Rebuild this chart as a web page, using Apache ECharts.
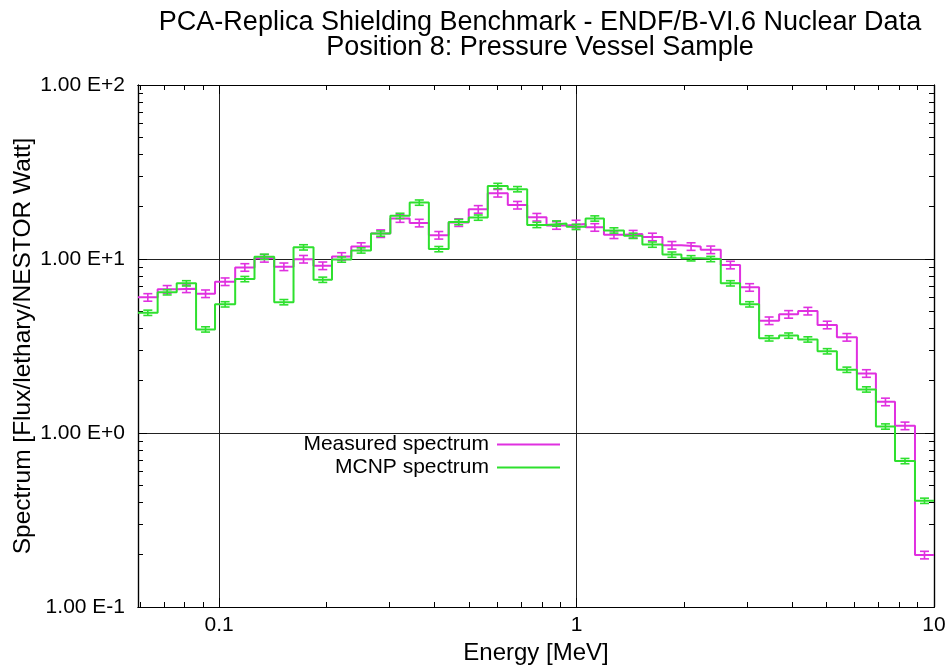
<!DOCTYPE html>
<html><head><meta charset="utf-8">
<script src="https://cdn.jsdelivr.net/npm/echarts@6/dist/echarts.min.js"></script>
<style>html,body{margin:0;padding:0;background:#fff}#c{width:951px;height:666px}</style>
</head><body><div id="c"></div>
<script>
// Energy bin edges [MeV] (41 bins)
const binEdges = [0.0593, 0.0673, 0.0761, 0.0862, 0.0974, 0.1109, 0.1256, 0.1426, 0.1615, 0.1837,
  0.2069, 0.2343, 0.2660, 0.3013, 0.3413, 0.3862, 0.4388, 0.4993, 0.5644, 0.6421,
  0.7276, 0.8241, 0.9375, 1.060, 1.193, 1.357, 1.528, 1.739, 1.965, 2.225,
  2.532, 2.867, 3.241, 3.687, 4.168, 4.723, 5.350, 6.085, 6.879, 7.778, 8.847, 10.0];
// Measured spectrum per bin
const measured = [6.02, 6.70, 6.75, 6.32, 7.41, 8.95, 10.1, 9.03, 9.98, 9.15,
  10.35, 11.8, 14.0, 17.1, 16.1, 13.7, 16.2, 19.3, 23.9, 20.4,
  17.4, 15.6, 15.9, 15.2, 13.8, 13.9, 13.4, 12.0, 11.8, 11.3,
  9.24, 6.87, 4.42, 4.81, 5.02, 4.18, 3.55, 2.20, 1.51, 1.10, 0.199];
// MCNP spectrum per bin
const mcnp = [4.91, 6.44, 7.25, 3.94, 5.49, 7.67, 10.3, 5.65, 11.67, 7.6,
  9.93, 11.2, 14.0, 17.7, 21.1, 11.4, 16.3, 17.3, 26.3, 25.2,
  15.7, 16.0, 15.3, 17.1, 14.6, 13.6, 12.1, 10.6, 10.1, 10.0,
  7.25, 5.49, 3.50, 3.63, 3.45, 2.95, 2.31, 1.78, 1.09, 0.69, 0.408];
const measuredRelErr = 0.05;
const mcnpRelErr = 0.035;

const xMin = 0.0593, xMax = 10.00001;
const yMin = 0.0999999, yMax = 100;
const xMajorTicks = [0.1, 1, 10];
const xMinorTicks = [0.06, 0.07, 0.08, 0.09, 0.2, 0.3, 0.4, 0.5, 0.6, 0.7, 0.8, 0.9, 2, 3, 4, 5, 6, 7, 8, 9];
const yMajorTicks = [0.1, 1, 10, 100];
const yMinorTicks = [0.2, 0.3, 0.4, 0.5, 0.6, 0.7, 0.8, 0.9, 2, 3, 4, 5, 6, 7, 8, 9, 20, 30, 40, 50, 60, 70, 80, 90];

const MAG = '#e030e0', GRN = '#2ee02e';
const FONT = 'Liberation Sans';

function stepData(vals) {
  const out = [];
  vals.forEach((v, i) => { out.push([binEdges[i], v]); out.push([binEdges[i + 1], v]); });
  return out;
}
function errData(vals, rel) {
  return vals.map((v, i) => [Math.sqrt(binEdges[i] * binEdges[i + 1]), v, v * (1 - rel), v * (1 + rel)]);
}
function errSeries(name, vals, rel, color) {
  return {
    type: 'custom', name: name, xAxisIndex: 0, yAxisIndex: 0,
    data: errData(vals, rel), encode: { x: 0, y: 1 }, z: 3,
    renderItem: function (params, api) {
      const x = api.value(0);
      const pLo = api.coord([x, api.value(2)]);
      const pHi = api.coord([x, api.value(3)]);
      const hw = 4.5;
      const style = { stroke: color, lineWidth: 1.6 };
      return { type: 'group', children: [
        { type: 'line', shape: { x1: pLo[0], y1: pLo[1], x2: pHi[0], y2: pHi[1] }, style: style },
        { type: 'line', shape: { x1: pLo[0] - hw, y1: pLo[1], x2: pLo[0] + hw, y2: pLo[1] }, style: style },
        { type: 'line', shape: { x1: pHi[0] - hw, y1: pHi[1], x2: pHi[0] + hw, y2: pHi[1] }, style: style }
      ] };
    }
  };
}
const lineStyleAxis = { color: '#000', width: 1.2 };
function axis(dim, position, ticks, len, extra) {
  const a = {
    type: 'log', logBase: 10, gridIndex: 0, position: position,
    min: dim === 'x' ? xMin : yMin, max: dim === 'x' ? xMax : yMax,
    axisLine: { show: true, onZero: false, lineStyle: lineStyleAxis },
    axisTick: { show: true, inside: true, length: len, customValues: ticks, lineStyle: { color: '#000', width: 1 } },
    axisLabel: { show: false },
    splitLine: { show: false },
    minorTick: { show: false }, minorSplitLine: { show: false }
  };
  return Object.assign(a, extra || {});
}
const xLabelFmt = v => { const e = Math.round(Math.log10(v)); return e < 0 ? '0.' + '0'.repeat(-e - 1) + '1' : '1' + '0'.repeat(e); };
const yLabelFmt = v => { const e = Math.round(Math.log10(v)); return '1.00 E' + (e >= 0 ? '+' : '-') + Math.abs(e); };

const chart = echarts.init(document.getElementById('c'), null, { renderer: 'canvas' });
chart.setOption({
  animation: false,
  backgroundColor: '#fff',
  title: {
    text: 'PCA-Replica Shielding Benchmark - ENDF/B-VI.6 Nuclear Data\nPosition 8: Pressure Vessel Sample',
    left: 535, textAlign: 'center', top: 5,
    textStyle: { fontFamily: FONT, fontSize: 27, fontWeight: 'normal', color: '#000', lineHeight: 25 }
  },
  grid: { left: 138, right: 17, top: 85, bottom: 59, containLabel: false, outerBoundsMode: 'none' },
  legend: {
    data: ['Measured spectrum', 'MCNP spectrum'],
    orient: 'vertical', align: 'right', right: 386, top: 429,
    icon: 'rect', itemWidth: 63, itemHeight: 2, itemGap: 2,
    textStyle: { fontFamily: FONT, fontSize: 21, color: '#000', padding: [0, 3, 0, 0] }
  },
  xAxis: [
    axis('x', 'bottom', xMajorTicks, 9, {
      axisLabel: { show: true, customValues: xMajorTicks, formatter: xLabelFmt, margin: 8, color: '#000', fontFamily: FONT, fontSize: 21 },
      splitLine: { show: true, lineStyle: { color: '#222', width: 1 } },
      name: 'Energy [MeV]', nameLocation: 'middle', nameGap: 29,
      nameTextStyle: { fontFamily: FONT, fontSize: 24, color: '#000' }
    }),
    axis('x', 'bottom', xMinorTicks, 5),
    axis('x', 'top', xMajorTicks, 9),
    axis('x', 'top', xMinorTicks, 5)
  ],
  yAxis: [
    axis('y', 'left', yMajorTicks, 9, {
      axisLabel: { show: true, customValues: yMajorTicks, formatter: yLabelFmt, margin: 13, color: '#000', fontFamily: FONT, fontSize: 21 },
      splitLine: { show: true, lineStyle: { color: '#222', width: 1 } },
      name: 'Spectrum [Flux/lethary/NESTOR Watt]', nameLocation: 'middle', nameGap: 102, nameMoveOverlap: false,
      nameTextStyle: { fontFamily: FONT, fontSize: 24.5, color: '#000' }
    }),
    axis('y', 'left', yMinorTicks, 5),
    axis('y', 'right', yMajorTicks, 9),
    axis('y', 'right', yMinorTicks, 5)
  ],
  series: [
    { type: 'line', name: 'Measured spectrum', xAxisIndex: 0, yAxisIndex: 0, data: stepData(measured),
      showSymbol: false, symbol: 'none', lineStyle: { color: MAG, width: 2 }, itemStyle: { color: MAG }, z: 2 },
    errSeries('Measured err', measured, measuredRelErr, MAG),
    { type: 'line', name: 'MCNP spectrum', xAxisIndex: 0, yAxisIndex: 0, data: stepData(mcnp),
      showSymbol: false, symbol: 'none', lineStyle: { color: GRN, width: 2 }, itemStyle: { color: GRN }, z: 4 },
    errSeries('MCNP err', mcnp, mcnpRelErr, GRN)
  ]
});
</script></body></html>
